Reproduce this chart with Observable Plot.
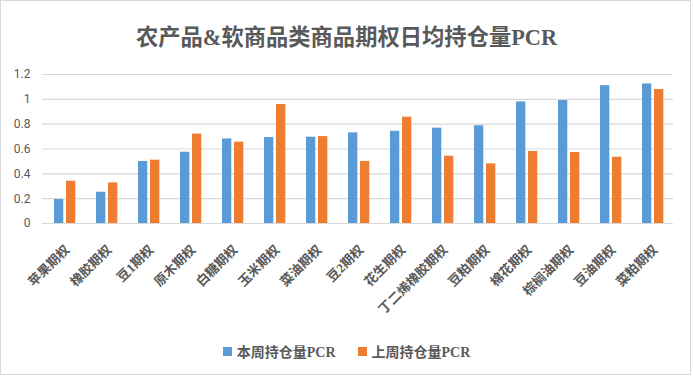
<!DOCTYPE html>
<html><head><meta charset="utf-8">
<script src="https://cdn.jsdelivr.net/npm/d3@7"></script>
<script src="https://cdn.jsdelivr.net/npm/@observablehq/plot@0.6"></script>
<style>
body{margin:0;background:#fff;}
#chart{position:relative;width:693px;height:376px;background:#fff;overflow:hidden}
#frame{position:absolute;left:0;top:0;width:691px;height:375px;border:1px solid #d9d9d9;box-sizing:border-box;pointer-events:none}
#title{position:absolute;left:0;width:693px;top:19px;text-align:center;font-weight:bold;font-size:22.3px;font-family:"Liberation Serif","Noto Sans CJK SC",serif;color:#595959;white-space:nowrap}
#plot{position:absolute;left:0;top:0}
#legend{position:absolute;top:341px;left:0;width:693px;text-align:center;font-weight:bold;font-size:14px;font-family:"Liberation Serif","Noto Sans CJK SC",serif;color:#595959;white-space:nowrap}
#legend span.item{display:inline-flex;align-items:center;margin:0 11px}
#legend span.sw{display:inline-block;width:9px;height:9px;margin-right:5px}
</style></head>
<body>
<div id="chart">
  <div id="plot"></div>
  <div id="title">农产品&amp;软商品类商品期权日均持仓量PCR</div>
  <div id="legend"></div>
  <div id="frame"></div>
</div>
<script>
const categories = ["苹果期权","橡胶期权","豆1期权","原木期权","白糖期权","玉米期权","菜油期权","豆2期权","花生期权","丁二烯橡胶期权","豆粕期权","棉花期权","棕榈油期权","豆油期权","菜粕期权"];
const thisWeek = [0.193,0.252,0.50,0.574,0.681,0.692,0.695,0.73,0.743,0.768,0.787,0.979,0.99,1.11,1.124];
const lastWeek = [0.34,0.327,0.51,0.72,0.655,0.958,0.70,0.50,0.856,0.542,0.48,0.58,0.572,0.534,1.079];
const seriesNames = ["本周持仓量PCR","上周持仓量PCR"];
const seriesColors = ["#5B9BD5","#ED7D31"];
const yTicks = [0,0.2,0.4,0.6,0.8,1,1.2];

const dThis = categories.map((c,i)=>({c, v: thisWeek[i]}));
const dLast = categories.map((c,i)=>({c, v: lastWeek[i]}));

const chart = Plot.plot({
  width: 693, height: 376,
  marginLeft: 42, marginRight: 20, marginTop: 74, marginBottom: 153,
  style: {background: "transparent", color: "#595959"},
  x: {domain: categories, padding: 0, label: null},
  y: {domain: [0, 1.2], label: null},
  marks: [
    Plot.gridY(yTicks, {stroke: "#d9d9d9", strokeOpacity: 1, strokeWidth: 1.2}),
    Plot.barY(dThis, {x: "c", y: "v", fill: seriesColors[0], insetLeft: 11, insetRight: 21.7}),
    Plot.barY(dLast, {x: "c", y: "v", fill: seriesColors[1], insetLeft: 23, insetRight: 9.7}),
    Plot.axisY({ticks: yTicks, tickSize: 0, tickPadding: 12, tickFormat: d => String(d), label: null,
      fontSize: 12, fontFamily: "Roboto, 'Noto Sans', sans-serif", fill: "#595959"}),
    Plot.axisX({tickSize: 0, tickRotate: -45, tickPadding: 24, dx: 3, label: null,
      fontSize: 13, fontWeight: "bold", fontFamily: "'Liberation Serif','Noto Sans CJK SC',serif", fill: "#595959"})
  ]
});
document.getElementById("plot").appendChild(chart);

const legend = document.getElementById("legend");
seriesNames.forEach((n,i)=>{
  const item = document.createElement("span");
  item.className = "item";
  const sw = document.createElement("span");
  sw.className = "sw";
  sw.style.background = seriesColors[i];
  item.appendChild(sw);
  item.appendChild(document.createTextNode(n));
  legend.appendChild(item);
});
</script>
</body></html>
